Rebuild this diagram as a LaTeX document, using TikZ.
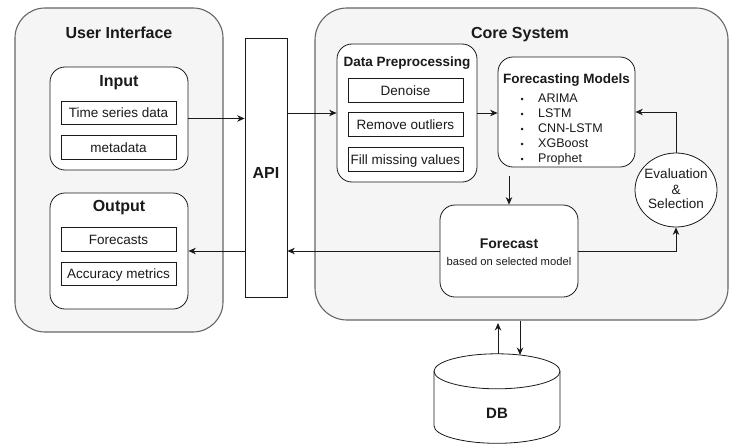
\documentclass[tikz,border=0pt]{standalone}
\usepackage{fontspec}
\setmainfont{Liberation Sans}
\usetikzlibrary{arrows.meta,shapes.geometric,calc}
\definecolor{contfill}{HTML}{F5F5F5}
\definecolor{contdraw}{HTML}{666666}
\definecolor{txt}{HTML}{1A1A1A}
\definecolor{ln}{HTML}{1A1A1A}
\tikzset{
  cont/.style={draw=contdraw, fill=contfill, line width=1.1pt, rounded corners=30pt, inner sep=0pt},
  grp/.style={draw=ln, fill=white, line width=0.8pt, rounded corners=15pt, inner sep=0pt},
  item/.style={draw=ln, fill=white, line width=0.8pt, inner sep=0pt, minimum width=115pt, minimum height=23.5pt,
    font=\fontsize{13.5}{16}\selectfont, text=txt, text height=9.7pt, text depth=0pt},
  ttl/.style={anchor=base, font=\fontsize{16}{19}\selectfont\bfseries, text=txt, inner sep=0pt},
  sttl/.style={anchor=base, font=\fontsize{13.5}{16}\selectfont\bfseries, text=txt, inner sep=0pt},
  plain/.style={anchor=base, font=\fontsize{13.5}{16}\selectfont, text=txt, inner sep=0pt},
  bul/.style={anchor=base west, font=\fontsize{12.5}{15}\selectfont, text=txt, inner sep=0pt},
  arr/.style={-{Stealth[length=7.5pt,width=6.5pt]}, line width=0.8pt, draw=ln},
}
\begin{document}
\begin{tikzpicture}[x=1pt,y=-1pt]
\useasboundingbox (0,0) rectangle (735,444);

% containers
\node[cont, minimum width=208pt, minimum height=324pt] (ui) at (119,170) {};
\node[cont, rounded corners=32pt, minimum width=413pt, minimum height=312pt] (core) at (521.5,164) {};
\node[ttl] (uititle) at (119,39) {User Interface};
\node[ttl] (coretitle) at (520,39) {Core System};

% input group
\node[grp, minimum width=138pt, minimum height=103pt] (input) at (119,118.5) {};
\node[ttl] (inputtitle) at (119,86.7) {Input};
\node[item] (tsd) at (118.5,113) {Time series data};
\node[item] (meta) at (118.5,147.5) {metadata};

% output group
\node[grp, minimum width=138pt, minimum height=116pt] (output) at (119,251) {};
\node[ttl] (outputtitle) at (119,211.7) {Output};
\node[item] (fc) at (118.5,239.5) {Forecasts};
\node[item] (acc) at (118.5,274) {Accuracy metrics};

% API
\node[draw=ln, fill=white, line width=0.8pt, minimum width=42pt, minimum height=259pt, inner sep=0pt] (api) at (266,167.5) {};
\node[ttl] (apilabel) at (266,178) {API};

% data preprocessing
\node[grp, minimum width=140pt, minimum height=138pt] (dp) at (407,113) {};
\node[sttl] (dptitle) at (407,66.8) {Data Preprocessing};
\node[item] (den) at (405.5,90.5) {Denoise};
\node[item] (rem) at (405.5,124.5) {Remove outliers};
\node[item] (fill) at (405.5,159.5) {Fill missing values};

% forecasting models
\node[grp, minimum width=137pt, minimum height=110pt] (fm) at (566.5,112) {};
\node[sttl] (fmtitle) at (566.5,83.8) {Forecasting Models};
\foreach \t [count=\i] in {ARIMA,LSTM,CNN-LSTM,XGBoost,Prophet}{
  \node[bul] (b\i) at (520.5,{98+4.5+15*(\i-1)}) {\fontsize{9}{10}\selectfont •};
  \node[bul] (m\i) at (538,{98+4.5+15*(\i-1)}) {\t};
}

% evaluation
\node[ellipse, draw=ln, fill=white, line width=0.8pt, minimum width=82pt, minimum height=74pt, inner sep=0pt] (eval) at (676,190) {};
\node[plain] (ev1) at (676,178) {Evaluation};
\node[plain] (ev2) at (676,194) {\&};
\node[plain] (ev3) at (676,208.5) {Selection};

% forecast
\node[grp, minimum width=138pt, minimum height=92pt] (fcst) at (509,251) {};
\node[ttl, font=\fontsize{14}{17}\selectfont\bfseries] (fcsttitle) at (509,248) {Forecast};
\node[anchor=base, font=\fontsize{11.2}{13}\selectfont, text=txt, inner sep=0pt] (fcstsub) at (509,265) {based on selected model};

% database
\node[minimum width=126pt, minimum height=90pt, inner sep=0pt] (db) at (497,399) {};
\draw[draw=ln, fill=white, line width=0.8pt]
  ($(db.north)+(-63,17.5)$) -- ++(0,54.5)
  arc[start angle=180, end angle=360, x radius=63pt, y radius=17.5pt]
  -- ++(0,-54.5)
  arc[start angle=0, end angle=180, x radius=63pt, y radius=17.5pt] -- cycle;
\draw[draw=ln, line width=0.8pt] ($(db.north)+(-63,17.5)$)
  arc[start angle=180, end angle=360, x radius=63pt, y radius=17.5pt];
\node[ttl, font=\fontsize{15}{18}\selectfont\bfseries] (dblabel) at (497,418.5) {DB};

% connectors
\coordinate (fmout) at (509,176);
\coordinate (dbup) at (498,323);
\coordinate (dbin) at (520,355);
\draw[arr] (input.east) -- (input.east -| api.west);
\draw[arr] (api.east |- dp.west) -- (dp.west);
\draw[arr] (dp.east) -- (dp.east -| fm.west);
\draw[arr] (eval.north) |- (fm.east);
\draw[arr] (fmout) -- (fcst.north);
\draw[arr] (fcst.west) -- (fcst.west -| api.east);
\draw[arr] (api.west |- output.east) -- (output.east);
\draw[arr] (fcst.east) -| (eval.south);
\draw[arr] (db.north -| dbup) -- (dbup);
\draw[arr] (core.south -| dbin) -- (dbin);
\end{tikzpicture}
\end{document}
